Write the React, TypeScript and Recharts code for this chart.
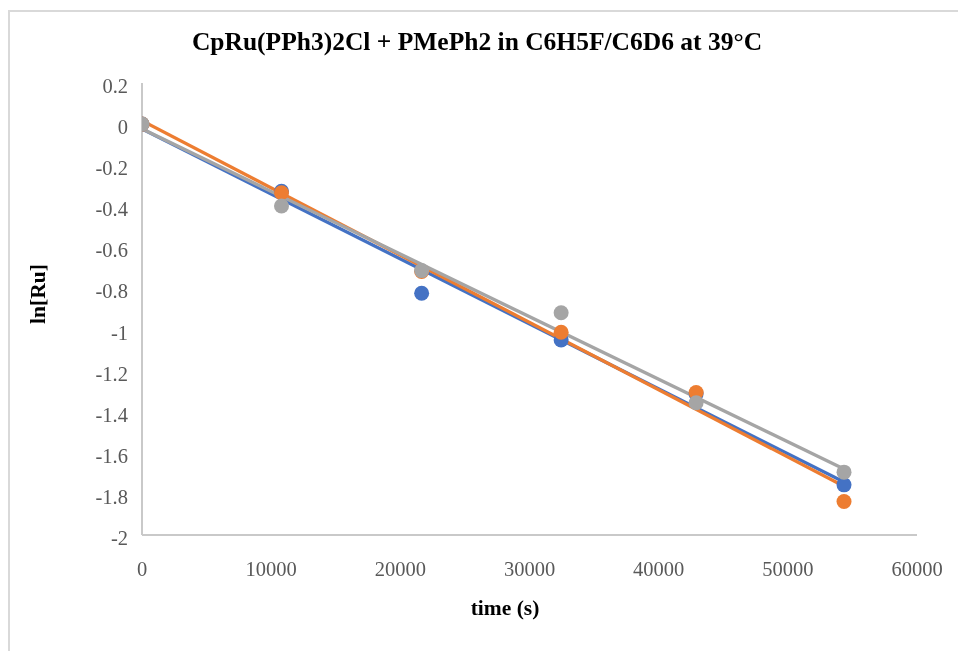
import React from "react";
import { ComposedChart, Line, Scatter, XAxis, YAxis } from "recharts";

const times = [0, 10800, 21650, 32450, 42900, 54350];
const blueValues = [0, -0.327, -0.823, -1.051, -1.313, -1.756];
const orangeValues = [0, -0.334, -0.717, -1.013, -1.307, -1.837];
const grayValues = [0, -0.399, -0.713, -0.918, -1.356, -1.694];

const trendTimes = [0, 54350];
const blueTrend = [-0.024, -1.742];
const orangeTrend = [0.017, -1.763];
const grayTrend = [-0.023, -1.679];

const xTicks = [0, 10000, 20000, 30000, 40000, 50000, 60000];
const yTicks = [0.2, 0, -0.2, -0.4, -0.6, -0.8, -1, -1.2, -1.4, -1.6, -1.8, -2];

const title = "CpRu(PPh3)2Cl + PMePh2 in C6H5F/C6D6 at 39°C";
const xLabel = "time (s)";
const yLabel = "ln[Ru]";

const BLUE = "#4472C4";
const ORANGE = "#ED7D31";
const GRAY = "#A5A5A5";

const toPoints = (xs: number[], ys: number[]) => xs.map((t, i) => ({ t, v: ys[i] }));

const blueData = toPoints(times, blueValues);
const orangeData = toPoints(times, orangeValues);
const grayData = toPoints(times, grayValues);
const blueTrendData = toPoints(trendTimes, blueTrend);
const orangeTrendData = toPoints(trendTimes, orangeTrend);
const grayTrendData = toPoints(trendTimes, grayTrend);

const FONT = "'Liberation Serif', 'Times New Roman', serif";

const dot = (color: string) => (props: any) => {
  const { cx, cy } = props;
  if (cx == null || cy == null) return <g />;
  return <circle cx={cx} cy={cy} r={7.5} fill={color} />;
};

const XTick = (props: any) => {
  const { x, y, payload } = props;
  return (
    <text x={x} y={y + 7} textAnchor="middle" fill="#595959" fontSize={20.5} fontFamily="Liberation Serif" style={{ fontFamily: FONT }}>
      {String(payload.value)}
    </text>
  );
};

const YTick = (props: any) => {
  const { x, y, payload } = props;
  return (
    <text x={x} y={y + 10} textAnchor="end" fill="#595959" fontSize={20.5} fontFamily="Liberation Serif" style={{ fontFamily: FONT }}>
      {String(payload.value)}
    </text>
  );
};

export default function App() {
  return (
    <div style={{ position: "relative", width: 942, height: 635, fontFamily: FONT }}>
      <div
        style={{
          position: "fixed",
          left: 8,
          top: 10,
          width: 1200,
          height: 1200,
          border: "2px solid #D9D9D9",
          boxSizing: "border-box",
          pointerEvents: "none",
        }}
      />
      <div
        style={{
          position: "absolute",
          left: 0,
          width: 938,
          top: 19,
          textAlign: "center",
          fontWeight: "bold",
          fontSize: 25.5,
          color: "#000",
          lineHeight: "30px",
          whiteSpace: "nowrap",
        }}
      >
        {title}
      </div>
      <div
        style={{
          position: "absolute",
          left: 397,
          width: 200,
          top: 588,
          textAlign: "center",
          fontWeight: "bold",
          fontSize: 21.5,
          color: "#000",
          lineHeight: "24px",
        }}
      >
        {xLabel}
      </div>
      <div
        style={{
          position: "absolute",
          left: 30 - 100,
          width: 200,
          top: 286 - 12,
          textAlign: "center",
          fontWeight: "bold",
          fontSize: 21.5,
          color: "#000",
          lineHeight: "24px",
          transform: "rotate(-90deg)",
        }}
      >
        {yLabel}
      </div>
      <div style={{ position: "absolute", left: 0, top: 0 }}>
        <ComposedChart
          width={942}
          height={635}
          margin={{ top: 75, right: 33, bottom: 78, left: 74 }}
        >
          <XAxis
            dataKey="t"
            type="number"
            domain={[0, 60000]}
            ticks={xTicks}
            allowDataOverflow
            tickLine={false}
            tickSize={0}
            tickMargin={34}
            height={30}
            axisLine={{ stroke: "#C9C9C9", strokeWidth: 2 }}
            tick={<XTick />}
          />
          <YAxis
            dataKey="v"
            type="number"
            domain={[-2, 0.2]}
            ticks={yTicks}
            allowDataOverflow
            tickLine={false}
            tickSize={0}
            tickMargin={14}
            width={60}
            axisLine={{ stroke: "#C9C9C9", strokeWidth: 2 }}
            tick={<YTick />}
          />
          <Line data={blueTrendData} dataKey="v" stroke={BLUE} strokeWidth={3.3} dot={false} activeDot={false} isAnimationActive={false} />
          <Line data={orangeTrendData} dataKey="v" stroke={ORANGE} strokeWidth={3.3} dot={false} activeDot={false} isAnimationActive={false} />
          <Line data={grayTrendData} dataKey="v" stroke={GRAY} strokeWidth={3.3} dot={false} activeDot={false} isAnimationActive={false} />
          <Scatter data={blueData} dataKey="v" fill={BLUE} shape={dot(BLUE)} isAnimationActive={false} />
          <Scatter data={orangeData} dataKey="v" fill={ORANGE} shape={dot(ORANGE)} isAnimationActive={false} />
          <Scatter data={grayData} dataKey="v" fill={GRAY} shape={dot(GRAY)} isAnimationActive={false} />
        </ComposedChart>
      </div>
    </div>
  );
}
